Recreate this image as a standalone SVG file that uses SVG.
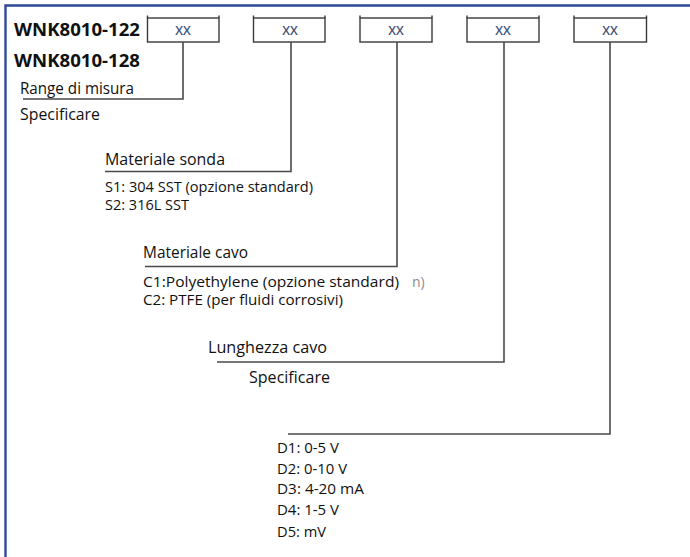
<svg xmlns="http://www.w3.org/2000/svg" width="690" height="557" viewBox="0 0 690 557">
<style>
.frame{stroke:#2c4a98;stroke-width:2.4;fill:none}
.box rect{fill:#fff;stroke:#3a3a3a;stroke-width:1.4}
.box line{stroke:#3a3a3a;stroke-width:1.4}
.xx{font-family:"Open Sans","Liberation Sans",sans-serif;font-size:12.5px;font-weight:600;fill:#44557a;text-anchor:middle}
.conn path{fill:none;stroke:#4a4a4a;stroke-width:1.6}
.h{font-family:"Open Sans","Liberation Sans",sans-serif;font-size:17.5px;font-weight:bold;fill:#111}
.lbl{font-family:"Open Sans","Liberation Sans",sans-serif;font-size:15.5px;fill:#111}
.opt{font-family:"Open Sans","Liberation Sans",sans-serif;font-size:14px;fill:#111}
.faint{font-family:"Open Sans","Liberation Sans",sans-serif;font-size:14px;fill:#8a8a9a}
</style>
<path class="frame" d="M5.5 557 V5.5 H690"/>
<g id="title">
<text class="h" x="14" y="36" textLength="126" lengthAdjust="spacingAndGlyphs">WNK8010-122</text>
<text class="h" x="14" y="67" textLength="126" lengthAdjust="spacingAndGlyphs">WNK8010-128</text>
</g>
<g id="box1" class="box"><rect x="147.5" y="18" width="71.5" height="24"/><line x1="147.5" y1="15.5" x2="147.5" y2="18"/><line x1="219" y1="15.5" x2="219" y2="18"/><text class="xx" x="183" y="35">XX</text></g>
<g id="box2" class="box"><rect x="253.5" y="18" width="71.5" height="24"/><line x1="253.5" y1="15.5" x2="253.5" y2="18"/><line x1="325" y1="15.5" x2="325" y2="18"/><text class="xx" x="290" y="35">XX</text></g>
<g id="box3" class="box"><rect x="360" y="18" width="72" height="24"/><line x1="360" y1="15.5" x2="360" y2="18"/><line x1="432" y1="15.5" x2="432" y2="18"/><text class="xx" x="396" y="35">XX</text></g>
<g id="box4" class="box"><rect x="467" y="18" width="72" height="24"/><line x1="467" y1="15.5" x2="467" y2="18"/><line x1="539" y1="15.5" x2="539" y2="18"/><text class="xx" x="503" y="35">XX</text></g>
<g id="box5" class="box"><rect x="574" y="18" width="72.5" height="24"/><line x1="574" y1="15.5" x2="574" y2="18"/><line x1="646.5" y1="15.5" x2="646.5" y2="18"/><text class="xx" x="610" y="35">XX</text></g>
<g id="connectors" class="conn">
<path d="M183 42 V99 H23"/>
<path d="M291 42 V171.5 H105"/>
<path d="M397 42 V266.5 H145"/>
<path d="M504 42 V362 H217"/>
<path d="M610 42 V434 H288"/>
</g>
<g id="range">
<text class="lbl" x="20" y="94" textLength="114" lengthAdjust="spacingAndGlyphs">Range di misura</text>
<text class="lbl" x="20" y="120" textLength="80" lengthAdjust="spacingAndGlyphs">Specificare</text>
</g>
<g id="sonda">
<text class="lbl" x="105" y="165" textLength="120" lengthAdjust="spacingAndGlyphs">Materiale sonda</text>
<text class="opt" x="105" y="192" textLength="208" lengthAdjust="spacingAndGlyphs">S1: 304 SST (opzione standard)</text>
<text class="opt" x="105" y="210" textLength="84" lengthAdjust="spacingAndGlyphs">S2: 316L SST</text>
</g>
<g id="cavo">
<text class="lbl" x="143" y="258" textLength="105" lengthAdjust="spacingAndGlyphs">Materiale cavo</text>
<text class="opt" x="143" y="287" textLength="256" lengthAdjust="spacingAndGlyphs">C1:Polyethylene (opzione standard)</text>
<text class="opt" x="143" y="305" textLength="200" lengthAdjust="spacingAndGlyphs">C2: PTFE (per fluidi corrosivi)</text>
<text class="faint" x="412" y="287">n)</text>
</g>
<g id="lunghezza">
<text class="lbl" x="208" y="353" textLength="119" lengthAdjust="spacingAndGlyphs">Lunghezza cavo</text>
<text class="lbl" x="249" y="383" textLength="81" lengthAdjust="spacingAndGlyphs">Specificare</text>
</g>
<g id="uscita">
<text class="opt" x="277" y="453" textLength="62" lengthAdjust="spacingAndGlyphs">D1: 0-5 V</text>
<text class="opt" x="277" y="474" textLength="70" lengthAdjust="spacingAndGlyphs">D2: 0-10 V</text>
<text class="opt" x="277" y="494" textLength="87" lengthAdjust="spacingAndGlyphs">D3: 4-20 mA</text>
<text class="opt" x="277" y="515" textLength="62" lengthAdjust="spacingAndGlyphs">D4: 1-5 V</text>
<text class="opt" x="277" y="537" textLength="49" lengthAdjust="spacingAndGlyphs">D5: mV</text>
</g>
</svg>
